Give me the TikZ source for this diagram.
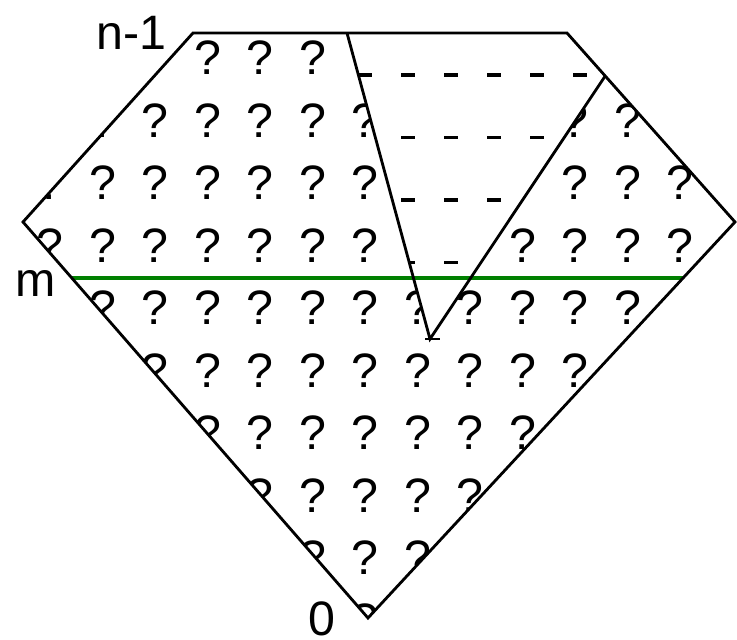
\documentclass[tikz,border=0pt]{standalone}
\usepackage{fontspec}
\setmainfont{Liberation Sans}
\usetikzlibrary{calc}
\definecolor{TRGreen}{HTML}{008000}

\begin{document}
\begin{tikzpicture}[x=1cm,y=1cm,
  qmark/.style={font=\fontsize{27.5}{27.5}\selectfont,inner sep=0pt},
  lbl/.style={font=\fontsize{27.5}{27.5}\selectfont,inner sep=0pt},
  edge/.style={line width=1.6pt},
  rowdash/.style={line width=2.2pt,dash pattern=on 0.28cm off 0.58cm}]
\path[use as bounding box] (0,0) rectangle (14.74,12.80);
\coordinate (tl) at (3.86,12.14);
\coordinate (tr) at (11.34,12.14);
\coordinate (rt) at (14.70,8.36);
\coordinate (bt) at (7.36,0.44);
\coordinate (lt) at (0.46,8.36);
\coordinate (va) at (6.94,12.14);
\coordinate (vc) at ($(tr)!0.2275!(rt)$);
\coordinate (vb) at (8.60,6.02);
\coordinate (gl) at ($(lt)!0.1414!(bt)$);
\coordinate (gr) at ($(rt)!0.1414!(bt)$);
\begin{scope}
\clip (tl) -- (tr) -- (rt) -- (bt) -- (lt) -- cycle;
\foreach \j in {0,...,9}
  \foreach \k in {0,...,12}
    \node[qmark] (q-\j-\k) at ({1.00+1.05*\k},{11.64-1.25*\j}) {?};
\end{scope}
\fill[white] (va) -- (tr) -- (vc) -- (vb) -- cycle;
\begin{scope}
\clip (va) -- (tr) -- (vc) -- (vb) -- cycle;
\foreach \y in {11.30,10.05,8.80,7.55}
  \draw[rowdash] (7.16,\y) -- (12.20,\y);
\end{scope}
\draw[TRGreen,line width=2.4pt] (gl) -- (gr);
\draw[edge,line join=miter] (tl) -- (tr) -- (rt) -- (bt) -- (lt) -- cycle;
\draw[edge] (va) -- (vb) -- (vc);
\draw[line width=1.2pt] ($(vb)+(-0.10,0)$) -- ($(vb)+(0.20,0)$);
\node[lbl,anchor=base east] (ntop) at (3.34,11.80) {n-1};
\node[lbl,anchor=base] (nm) at (0.71,6.86) {m};
\node[lbl,anchor=base] (nzero) at (6.44,0.08) {0};
\end{tikzpicture}
\end{document}
